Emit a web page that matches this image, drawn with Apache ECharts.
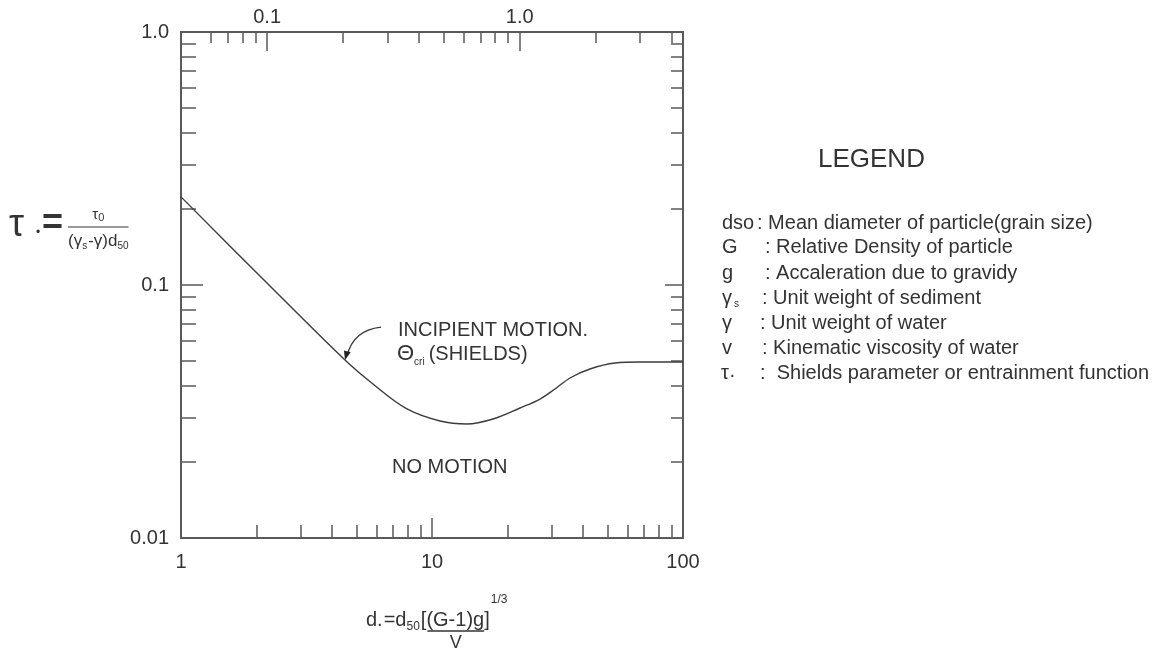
<!DOCTYPE html>
<html><head><meta charset="utf-8">
<script src="https://cdn.jsdelivr.net/npm/echarts@6/dist/echarts.min.js"></script>
<style>html,body{margin:0;padding:0;background:#fff}#c{width:1153px;height:651px}</style>
</head><body><div id="c"></div>
<script>
// ---- data ----
const dStar = [1, 2.121, 4.502, 5.82, 7.95, 10.76, 13.79, 17.5, 22.42, 26.94, 30.9, 35.46, 42.6, 53.59, 67.42, 100];
const tauStar = [0.223, 0.1056, 0.0505, 0.0406, 0.03236, 0.02901, 0.02822, 0.02954, 0.03265, 0.03542, 0.03881, 0.0429, 0.04656, 0.04916, 0.04961, 0.0496];
const bottomMajor = [1, 10, 100];
const bottomMinor = [2, 3, 4, 5, 6, 7, 8, 9, 20, 30, 40, 50, 60, 70, 80, 90];
const topMajor = [0.1, 1.0];
const topMinor = [0.06, 0.07, 0.08, 0.09, 0.2, 0.3, 0.4, 0.5, 0.6, 0.7, 0.8, 0.9, 2, 3, 4];
const topRange = [0.0456, 4.43];
const yMajor = [0.01, 0.1, 1];
const yMinor = [0.02, 0.03, 0.04, 0.05, 0.06, 0.07, 0.08, 0.09, 0.2, 0.3, 0.4, 0.5, 0.6, 0.7, 0.8, 0.9];
const legendTitle = 'LEGEND';
const legendSymbols = ['dso', 'G', 'g', 'γ|s', 'γ', 'v', 'τ|·'];
const legendTexts = [
  ': Mean diameter of particle(grain size)',
  ': Relative Density of particle',
  ': Accaleration due to gravidy',
  ': Unit weight of sediment',
  ': Unit weight of water',
  ': Kinematic viscosity of water',
  ':  Shields parameter or entrainment function'
];
const annoLine1 = 'INCIPIENT MOTION.';
const annoLine2 = '(SHIELDS)';
const regionLabel = 'NO MOTION';

// ---- style ----
const FONT = '"Liberation Sans", Arial, sans-serif';
const TXT = '#333';
const FRAME = '#5a5a5a';
const tickStyle = {color: FRAME, width: 1.5};

const chart = echarts.init(document.getElementById('c'), null, {renderer: 'canvas'});

function logAxis(extra) {
  return Object.assign({
    type: 'log', logBase: 10, gridIndex: 0,
    splitLine: {show: false}, minorTick: {show: false}, minorSplitLine: {show: false},
    axisLine: {show: false, onZero: false},
    axisLabel: {show: false}
  }, extra);
}

const labelStyle = {color: TXT, fontSize: 20, fontFamily: FONT};

const option = {
  backgroundColor: '#fff',
  animation: false,
  grid: {left: 181, right: 470, top: 32, bottom: 113, containLabel: false, outerBoundsMode: 'none'},
  xAxis: [
    logAxis({min: 1, max: 100, position: 'bottom',
      axisLine: {show: true, onZero: false, lineStyle: {color: FRAME, width: 2}},
      axisTick: {show: true, inside: true, length: 20, customValues: bottomMajor, lineStyle: tickStyle},
      axisLabel: Object.assign({show: true, margin: 14, customValues: bottomMajor, formatter: v => String(Math.round(v))}, labelStyle)}),
    logAxis({min: 1, max: 100, position: 'bottom',
      axisTick: {show: true, inside: true, length: 13, customValues: bottomMinor, lineStyle: tickStyle}}),
    logAxis({min: topRange[0], max: topRange[1], position: 'top',
      axisLine: {show: true, onZero: false, lineStyle: {color: FRAME, width: 2}},
      axisTick: {show: true, inside: true, length: 19, customValues: topMajor, lineStyle: tickStyle},
      axisLabel: Object.assign({show: true, margin: 5, customValues: topMajor, formatter: v => Number(v).toFixed(1)}, labelStyle)}),
    logAxis({min: topRange[0], max: topRange[1], position: 'top',
      axisTick: {show: true, inside: true, length: 11, customValues: topMinor, lineStyle: tickStyle}})
  ],
  yAxis: [
    logAxis({min: 0.01, max: 1, position: 'left',
      axisLine: {show: true, onZero: false, lineStyle: {color: FRAME, width: 2}},
      axisTick: {show: true, inside: true, length: 22, customValues: [0.1], lineStyle: tickStyle},
      axisLabel: Object.assign({show: true, margin: 12, customValues: yMajor,
        formatter: v => (v >= 1 ? '1.0' : (v >= 0.1 ? '0.1' : '0.01'))}, labelStyle)}),
    logAxis({min: 0.01, max: 1, position: 'left',
      axisTick: {show: true, inside: true, length: 15, customValues: yMinor, lineStyle: tickStyle}}),
    logAxis({min: 0.01, max: 1, position: 'right',
      axisLine: {show: true, onZero: false, lineStyle: {color: FRAME, width: 2}},
      axisTick: {show: true, inside: true, length: 18, customValues: [0.1], lineStyle: tickStyle}}),
    logAxis({min: 0.01, max: 1, position: 'right',
      axisTick: {show: true, inside: true, length: 12, customValues: yMinor, lineStyle: tickStyle}})
  ],
  series: [{
    type: 'line', xAxisIndex: 0, yAxisIndex: 0,
    data: dStar.map((d, i) => [d, tauStar[i]]),
    smooth: 0.35, showSymbol: false, symbol: 'none',
    lineStyle: {color: '#3c3c3c', width: 1.4},
    z: 3
  }]
};
chart.setOption(option);

const mctx = document.createElement('canvas').getContext('2d');
function tw(text, size, weight) {
  mctx.font = (weight || 'normal') + ' ' + size + 'px ' + FONT;
  return mctx.measureText(text).width;
}
function t(x, y, text, size, extra) {
  return {type: 'text', silent: true, z: 10,
    style: Object.assign({x: x, y: y, text: text, fill: TXT, fontSize: size, fontFamily: FONT,
      align: 'left', verticalAlign: 'middle'}, extra || {})};
}
// tokens: [text, size, dy, gapAfter]
function flow(arr, x, y, tokens) {
  let cx = x;
  const pos = [];
  tokens.forEach(tk => {
    pos.push(cx);
    arr.push(t(cx, y + (tk[2] || 0), tk[0], tk[1]));
    cx += tw(tk[0], tk[1]) + (tk[3] || 0);
  });
  return {pos: pos, end: cx};
}

const g = [];
// Y axis formula
g.push(t(9, 226, 'τ', 38));
g.push(t(36, 233, '•', 12));
g.push(t(42, 224, '=', 36, {fontWeight: 'bold'}));
const den = flow(g, 68, 241, [['(γ', 17], ['s', 10, 5, 1], ['-γ)d', 17], ['50', 10, 5]]);
g.push({type: 'line', silent: true, shape: {x1: 68, y1: 227, x2: den.end, y2: 227}, style: {stroke: TXT, lineWidth: 1.2}});
const numW = tw('τ', 15) + tw('0', 11);
flow(g, 68 + (den.end - 68 - numW) / 2, 215, [['τ', 15], ['0', 11, 3]]);

// X axis formula
const xf = flow(g, 366, 620, [['d', 20], ['.', 20, 0, 1], ['=d', 20], ['50', 12, 7, 1], ['[', 20], ['(G-1)g', 20], [']', 20, 0, 1], ['1/3', 12, -20]]);
const ulStart = xf.pos[5] + 1, ulEnd = xf.pos[6];
g.push({type: 'line', silent: true, shape: {x1: ulStart, y1: 631, x2: ulEnd, y2: 631}, style: {stroke: TXT, lineWidth: 1.3}});
g.push(t((ulStart + ulEnd) / 2, 643, 'V', 18, {align: 'center'}));

// Annotations
g.push(t(398, 330, annoLine1, 20));
const an = flow(g, 397, 354, [['Θ', 22], ['cri', 10, 8, 4], [annoLine2, 20]]);
g.push(t(392, 467, regionLabel, 20));

// Legend
g.push(t(818, 160, legendTitle, 26));
const rowY = [223, 247, 273, 298, 323, 348, 373];
const colonX = [757, 765, 765, 762, 760, 762, 760];
legendSymbols.forEach((s, i) => {
  const parts = s.split('|');
  if (parts[1] === '·') flow(g, 721, rowY[i], [[parts[0], 20], [parts[1], 20, 2]]);
  else if (parts[1]) flow(g, 722, rowY[i], [[parts[0], 20, 0, 2], [parts[1], 10, 6]]);
  else g.push(t(722, rowY[i], parts[0], 20));
  g.push(t(colonX[i], rowY[i], legendTexts[i], 20));
});

// Arrow pointing to curve
const tip = chart.convertToPixel({xAxisIndex: 0, yAxisIndex: 0}, [dStar[2], tauStar[2]]);
const sx = tip[0] + 36, sy = tip[1] - 33, cx = tip[0] + 8, cy = tip[1] - 30;
g.push({type: 'bezierCurve', silent: true, shape: {x1: sx, y1: sy, cpx1: cx, cpy1: cy, x2: tip[0] + 2, y2: tip[1] - 4},
  style: {stroke: TXT, lineWidth: 1.3, fill: null}});
const dx = tip[0] - cx, dy = tip[1] - cy, L = Math.hypot(dx, dy), ux = dx / L, uy = dy / L;
const bx = tip[0] - ux * 9, by = tip[1] - uy * 9;
g.push({type: 'polygon', silent: true, shape: {points: [[tip[0], tip[1]], [bx - uy * 3.5, by + ux * 3.5], [bx + uy * 3.5, by - ux * 3.5]]},
  style: {fill: '#222'}});

chart.setOption({graphic: {elements: g}});
</script>
</body></html>
